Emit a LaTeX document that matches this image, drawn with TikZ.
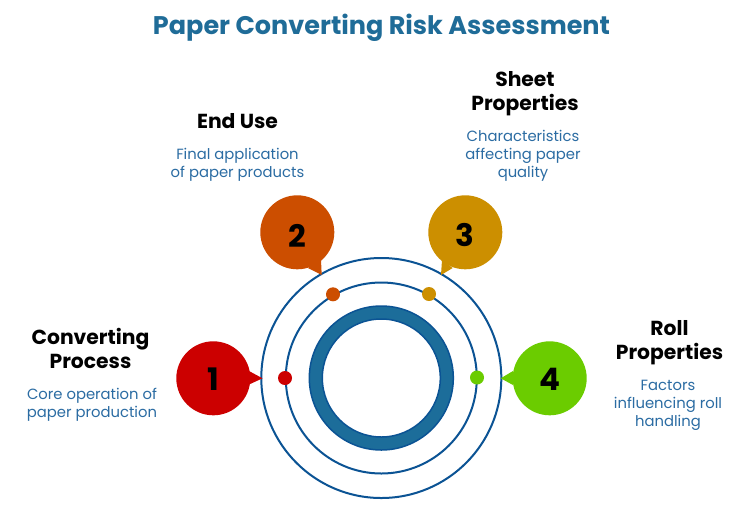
\documentclass[tikz,border=0pt]{standalone}
\usepackage{fontspec}
\setmainfont{Poppins}
\definecolor{titleblue}{HTML}{1F6C98}
\definecolor{bodyblue}{HTML}{2B6CA3}
\definecolor{ringblue}{HTML}{0B5394}
\definecolor{ringfill}{HTML}{1C6D9A}
\definecolor{cA}{HTML}{CC0000}
\definecolor{cB}{HTML}{CC4E00}
\definecolor{cC}{HTML}{CC8F00}
\definecolor{cD}{HTML}{6BCC00}
\tikzset{
  x=1pt,y=-1pt,
  ringline/.style={circle,draw=ringblue,line width=2pt,inner sep=0pt,fill=none},
  bubble/.style={circle,inner sep=0pt,minimum size=74pt},
  digit/.style={inner sep=0pt,text=black,font=\fontsize{31}{31}\selectfont\bfseries},
  pip/.style={circle,inner sep=0pt,minimum size=14pt},
  heading/.style={align=center,text=black,font=\fontsize{20.3}{24}\selectfont\bfseries,inner sep=0pt},
  bodytext/.style={align=center,text=bodyblue,font=\fontsize{14.8}{18}\selectfont,inner sep=0pt},
}
\begin{document}
\begin{tikzpicture}
\useasboundingbox (0,0) rectangle (754,507);
\fill[white] (0,0) rectangle (754,507);
\node[inner sep=0pt,text=titleblue,font=\fontsize{25.5}{28}\selectfont\bfseries] (title) at (381.5,28) {Paper Converting Risk Assessment};
% rings
\node[ringline,minimum size=240pt] (outer) at (381.3,378) {};
\node[ringline,minimum size=191pt] (middle) at (381.3,378) {};
\node[circle,draw=ringblue,line width=1.5pt,fill=ringfill,inner sep=0pt,minimum size=144pt] (thick) at (381.3,378) {};
\node[circle,draw=ringblue,line width=1.5pt,fill=white,inner sep=0pt,minimum size=118pt] (hole) at (381.3,378) {};
% tails
\fill[cA] (249,371) -- (262.5,378.3) -- (248,385) -- cycle;
\fill[cB] (308,268) -- (321.7,275) -- (321,260) -- cycle;
\fill[cC] (442,260) -- (441,275) -- (452.7,268) -- cycle;
\fill[cD] (513,371) -- (500.7,378.3) -- (513,385) -- cycle;
% bubbles
\node[bubble,fill=cA] (n1) at (213.3,378.3) {};
\node[bubble,fill=cB] (n2) at (297.3,232.3) {};
\node[bubble,fill=cC] (n3) at (465.3,232.3) {};
\node[bubble,fill=cD] (n4) at (549.7,378.3) {};
\node[digit] (d1) at (213.3,379.5) {1};
\node[digit] (d2) at (297.3,235.5) {2};
\node[digit] (d3) at (465.3,235.5) {3};
\node[digit] (d4) at (549.7,379.5) {4};
% pips
\node[pip,fill=cA] (p1) at (285,378) {};
\node[pip,fill=cB] (p2) at (333,294.3) {};
\node[pip,fill=cC] (p3) at (429,294) {};
\node[pip,fill=cD] (p4) at (477,377.5) {};
% texts
\node[heading] (h1) at (90.5,348.5) {Converting\\Process};
\node[bodytext] (b1) at (92,404.5) {Core operation of\\paper production};
\node[heading] (h2) at (237.5,121) {End Use};
\node[bodytext] (b2) at (237.5,164.5) {Final application\\of paper products};
\node[heading] (h3) at (525,94) {Sheet\\Properties};
\node[bodytext] (b3) at (523,155.5) {Characteristics\\affecting paper\\quality};
\node[heading] (h4) at (669.5,343) {Roll\\Properties};
\node[bodytext] (b4) at (668,405.5) {Factors\\influencing roll\\handling};
\end{tikzpicture}
\end{document}
